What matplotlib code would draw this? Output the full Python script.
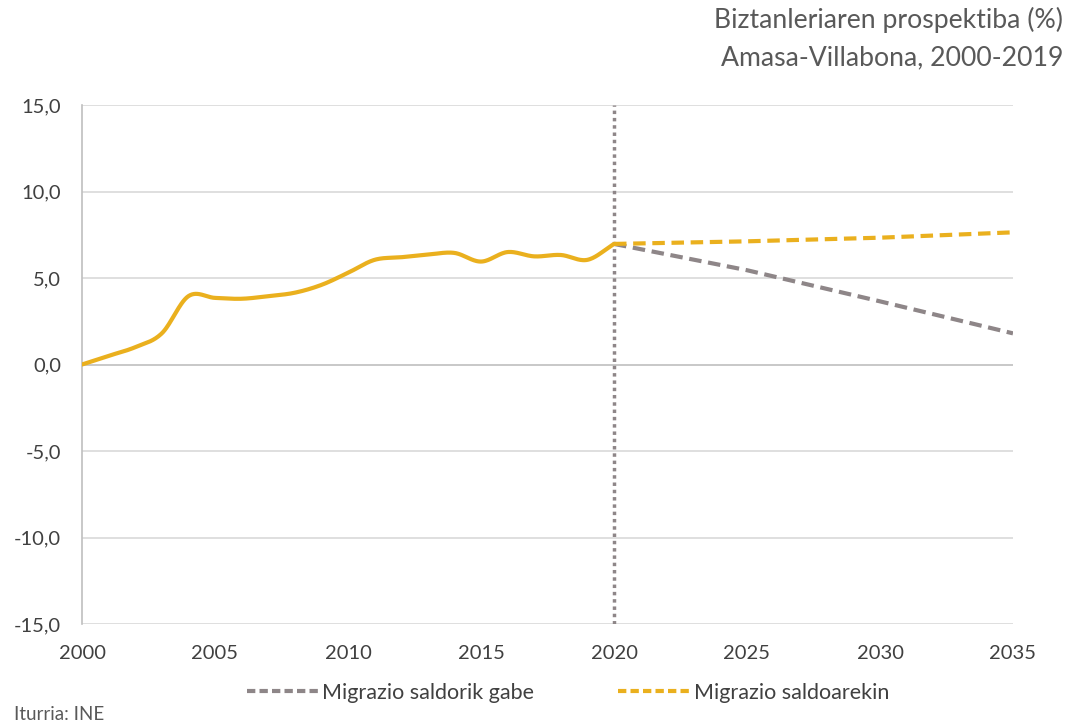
import numpy as np
import matplotlib
matplotlib.use("Agg")
import matplotlib.pyplot as plt
from matplotlib.lines import Line2D

# ---- data ----
hist_years = [2000, 2001, 2002, 2003, 2004, 2005, 2006, 2007, 2008, 2009, 2010,
              2011, 2012, 2013, 2014, 2015, 2016, 2017, 2018, 2019, 2020]
hist_values = [0.0, 0.5, 1.0, 1.8, 3.95, 3.85, 3.8, 3.95, 4.15, 4.6, 5.3,
               6.05, 6.2, 6.35, 6.45, 5.95, 6.5, 6.25, 6.33, 6.05, 6.97]
proj_years = [2020, 2025, 2030, 2035]
proj_no_migration = [6.97, 5.45, 3.65, 1.8]
proj_with_migration = [6.97, 7.12, 7.33, 7.64]
y_ticks = [-15, -10, -5, 0, 5, 10, 15]
x_ticks = [2000, 2005, 2010, 2015, 2020, 2025, 2030, 2035]
title_lines = ["Biztanleriaren prospektiba (%)", "Amasa-Villabona, 2000-2019"]
legend_labels = ["Migrazio saldorik gabe", "Migrazio saldoarekin"]
source_text = "Iturria: INE"

YELLOW = "#EAB01E"
GREY = "#8E8688"
TEXT = "#404040"
TITLE = "#595959"

plt.rcParams['font.family'] = ['Lato', 'DejaVu Sans']


def smooth(x, y, n=30):
    # Catmull-Rom style smoothing similar to spreadsheet "smoothed line"
    x = np.asarray(x, float)
    y = np.asarray(y, float)
    px = np.concatenate([[2 * x[0] - x[1]], x, [2 * x[-1] - x[-2]]])
    py = np.concatenate([[2 * y[0] - y[1]], y, [2 * y[-1] - y[-2]]])
    xs, ys = [], []
    t = np.linspace(0, 1, n, endpoint=False)
    for i in range(1, len(px) - 2):
        p0, p1, p2, p3 = py[i - 1], py[i], py[i + 1], py[i + 2]
        q0, q1, q2, q3 = px[i - 1], px[i], px[i + 1], px[i + 2]
        c1y = p1 + (p2 - p0) / 6
        c2y = p2 - (p3 - p1) / 6
        c1x = q1 + (q2 - q0) / 6
        c2x = q2 - (q3 - q1) / 6
        bx = (1 - t) ** 3 * q1 + 3 * (1 - t) ** 2 * t * c1x + 3 * (1 - t) * t ** 2 * c2x + t ** 3 * q2
        by = (1 - t) ** 3 * p1 + 3 * (1 - t) ** 2 * t * c1y + 3 * (1 - t) * t ** 2 * c2y + t ** 3 * p2
        xs.extend(bx)
        ys.extend(by)
    xs.append(x[-1])
    ys.append(y[-1])
    return np.array(xs), np.array(ys)


fig = plt.figure(figsize=(10.72, 7.26), dpi=100)
ax = fig.add_axes([82 / 1072, 1 - 624 / 726, (1013 - 82) / 1072, (624 - 105) / 726])

ax.set_xlim(2000, 2035)
ax.set_ylim(-15, 15)

for yv in y_ticks:
    ax.axhline(yv, color="#D9D9D9" if yv != 0 else "#BFBFBF", lw=1.2, zorder=0)

ax.axvline(2020, color=GREY, lw=2.5, ls=(0, (1, 1.1)), zorder=1)

sx, sy = smooth(hist_years, hist_values)
ax.plot(sx, sy, color=YELLOW, lw=3, solid_capstyle='round', zorder=3)
ax.plot(proj_years, proj_no_migration, color=GREY, lw=3, ls=(0, (3, 1.6)), zorder=2)
ax.plot(proj_years, proj_with_migration, color=YELLOW, lw=3, ls=(0, (3, 1.6)), zorder=3)

for s in ["top", "right", "bottom"]:
    ax.spines[s].set_visible(False)
ax.spines["left"].set_color("#BFBFBF")
ax.spines["left"].set_linewidth(1.2)

ax.set_yticks(y_ticks)
ax.set_yticklabels([f"{v:.1f}".replace(".", ",") for v in y_ticks])
ax.set_xticks(x_ticks)
ax.set_xticklabels([str(v) for v in x_ticks])
ax.tick_params(axis="both", length=0, labelsize=14.5, colors=TEXT)
ax.tick_params(axis="y", pad=15)
ax.tick_params(axis="x", pad=15)

fig.text(1063 / 1072, 1 - 20 / 726, title_lines[0], ha="right", va="center", fontsize=19.2, color=TITLE)
fig.text(1063 / 1072, 1 - 58 / 726, title_lines[1], ha="right", va="center", fontsize=19.2, color=TITLE)

handles = [Line2D([0], [0], color=GREY, lw=3, ls=(0, (2, 1))),
           Line2D([0], [0], color=YELLOW, lw=3, ls=(0, (2, 1)))]
fig.legend(handles, legend_labels, loc="center", bbox_to_anchor=(568 / 1072, 1 - 693 / 726),
           ncol=2, frameon=False, fontsize=15.5, handlelength=3.3, columnspacing=3.9,
           handletextpad=0.2, labelcolor=TEXT)

fig.text(14 / 1072, 1 - 714 / 726, source_text, ha="left", va="center", fontsize=13.5, color=TITLE)

fig.savefig("out.png", dpi=100)
